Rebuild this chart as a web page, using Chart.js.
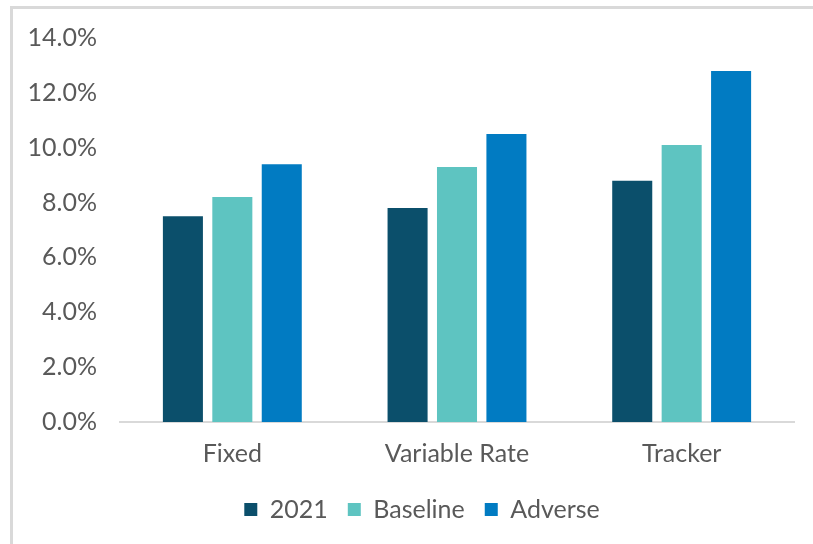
<!DOCTYPE html>
<html>
<head>
<meta charset="utf-8">
<script src="https://cdn.jsdelivr.net/npm/chart.js@4"></script>
<style>
  body { margin: 0; background: #fff; }
  .frame {
    position: absolute; left: 10px; top: 6px; width: 900px; height: 600px;
    border-left: 3px solid #d9d9d9; border-top: 3px solid #d9d9d9;
  }
  .chart-box { position: absolute; left: 0; top: 0; width: 813px; height: 544px; }
</style>
</head>
<body>
<div class="frame"></div>
<div class="chart-box"><canvas id="mortgageChart"></canvas></div>
<script>
  // mortgage types and rates per scenario (%)
  const categories = ["Fixed", "Variable Rate", "Tracker"];
  const rates2021 = [7.5, 7.8, 8.8];
  const ratesBaseline = [8.2, 9.3, 10.1];
  const ratesAdverse = [9.4, 10.5, 12.8];
  const yTicks = [0, 2, 4, 6, 8, 10, 12, 14];

  const textGrey = "#595959";
  const fontFamily = "Lato, 'Open Sans', sans-serif";
  const fontSize = 25;

  // nudge the legend a little to the right
  const shiftLegend = {
    id: "shiftLegend",
    afterLayout(chart) {
      chart.legend.left += 25;
      chart.legend.right += 25;
    },
  };

  const ctx = document.getElementById("mortgageChart").getContext("2d");

  new Chart(ctx, {
    type: "bar",
    data: {
      labels: categories,
      datasets: [
        { label: "2021", data: rates2021, backgroundColor: "#0b4f6b" },
        { label: "Baseline", data: ratesBaseline, backgroundColor: "#5ec4c1" },
        { label: "Adverse", data: ratesAdverse, backgroundColor: "#017bc2" },
      ],
    },
    plugins: [shiftLegend],
    options: {
      responsive: true,
      maintainAspectRatio: false,
      animation: false,
      datasets: {
        bar: { categoryPercentage: 0.66, barPercentage: 0.81 },
      },
      layout: { padding: { left: 0, right: 19, top: 26, bottom: 12 } },
      plugins: {
        tooltip: { enabled: false },
        legend: {
          position: "bottom",
          labels: {
            boxWidth: 13,
            boxHeight: 13,
            padding: 20,
            color: textGrey,
            font: { family: fontFamily, size: fontSize },
          },
        },
      },
      scales: {
        x: {
          afterFit: (scale) => {
            scale.height = scale.height - 9; // pull legend closer to labels
          },
          grid: { display: false, drawTicks: false },
          border: { display: true, color: "#d9d9d9", width: 2 },
          ticks: {
            padding: 17,
            color: textGrey,
            font: { family: fontFamily, size: fontSize },
          },
        },
        y: {
          min: 0,
          max: 14,
          afterBuildTicks: (scale) => {
            scale.ticks = yTicks.map((v) => ({ value: v }));
          },
          afterFit: (scale) => {
            scale.width = 120;
          },
          grid: { display: false, drawTicks: false },
          border: { display: false },
          ticks: {
            padding: 23,
            color: textGrey,
            font: { family: fontFamily, size: fontSize },
            callback: (v) => v.toFixed(1) + "%",
          },
        },
      },
    },
  });
</script>
</body>
</html>
